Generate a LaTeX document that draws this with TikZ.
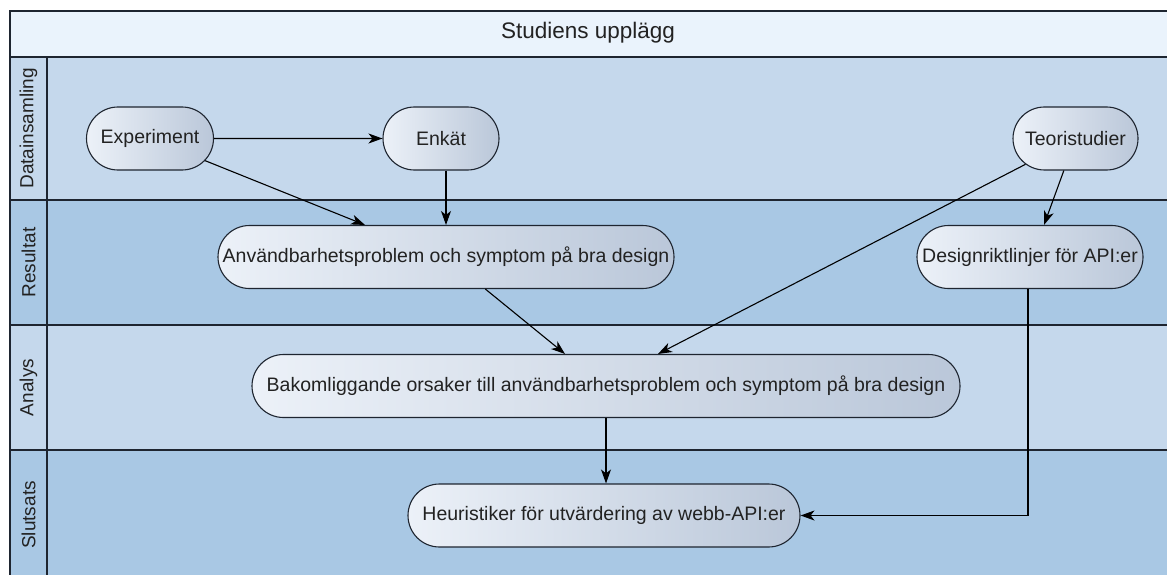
\documentclass[tikz,border=0pt]{standalone}
\usepackage{fontspec}
\setmainfont{Liberation Sans}
\usetikzlibrary{positioning}
\usetikzlibrary{arrows.meta,shapes.misc}
\definecolor{titleblue}{HTML}{EAF3FC}
\definecolor{lanelight}{HTML}{C5D8EC}
\definecolor{lanedark}{HTML}{A9C8E4}
\definecolor{nodeleft}{HTML}{ECF1F8}
\definecolor{noderight}{HTML}{BAC7D9}
\definecolor{lineblack}{HTML}{1E2530}
\definecolor{textgrey}{HTML}{222222}
\tikzstyle{lane}=[draw=lineblack,line width=1.3pt]
\tikzstyle{stepnode}=[rounded rectangle,draw=lineblack,line width=1.1pt,left color=nodeleft,right color=noderight,minimum height=63pt,inner xsep=0pt,text=textgrey,font=\fontsize{19.5}{23}\selectfont]
\tikzstyle{flow}=[draw=black,line width=1.1pt,-{Stealth[length=14pt,width=10pt,inset=4pt]}]
\tikzstyle{lanelabel}=[rotate=90,text=textgrey,font=\fontsize{19}{23}\selectfont]

\begin{document}
\begin{tikzpicture}[x=1pt,y=-1pt]
    \useasboundingbox[fill=white] (0,0) rectangle (1167,575);
    \clip (0,0) rectangle (1167,575);

    % Title band
    \path[lane,fill=titleblue] (10,11) rectangle (1170,57);
    \node[text=textgrey,font=\fontsize{22.5}{26}\selectfont] (title) at (588,33) {Studiens upplägg};

    % Swimlanes with their labels
    \foreach \top/\bot/\col/\name/\label in {57/200/lanelight/dat/Datainsamling, 200/325/lanedark/res/Resultat, 325/450/lanelight/ana/Analys, 450/580/lanedark/slu/Slutsats}{
        \path[lane,fill=\col] (10,\top) rectangle (47,\bot);
        \path[lane,fill=\col] (47,\top) rectangle (1170,\bot);
        \node[lanelabel] (\name) at (28.5,{(\top+\bot)/2}) {\label};
    }

    % The steps of the study
    \foreach \pos/\name/\nodew/\label in {{(150,138.5)/exp/127/Experiment}, {(441,138.5)/enk/116/Enkät}, {(1075.5,138.5)/teo/125/Teoristudier}, {(446,257)/anv/456/Användbarhetsproblem och symptom på bra design}, {(1030,257)/des/226/Designriktlinjer för API:er}, {(606,386)/bak/708/Bakomliggande orsaker till användbarhetsproblem och symptom på bra design}, {(604,515.5)/heu/392/Heuristiker för utvärdering av webb-API:er}}
        \node[stepnode,minimum width=\nodew pt] (\name) at \pos {\makebox[0pt]{\label}};

    % Connect the steps
    \path[flow] (exp) -- (enk);
    \path[flow] (exp) -- ([xshift=-81pt]anv.north);
    \path[flow] (enk.south -| anv.north) -- (anv.north);
    \path[flow] (teo) -- ([xshift=52pt]bak.north);
    \path[flow] (teo) -- ([xshift=14pt]des.north);
    \path[flow] (anv) -- ([xshift=-41pt]bak.north);
    \path[flow] (bak.south) -- (bak.south |- heu.north);
    \path[flow] ([xshift=-2pt]des.south) |- (heu.east);

\end{tikzpicture}
\end{document}
